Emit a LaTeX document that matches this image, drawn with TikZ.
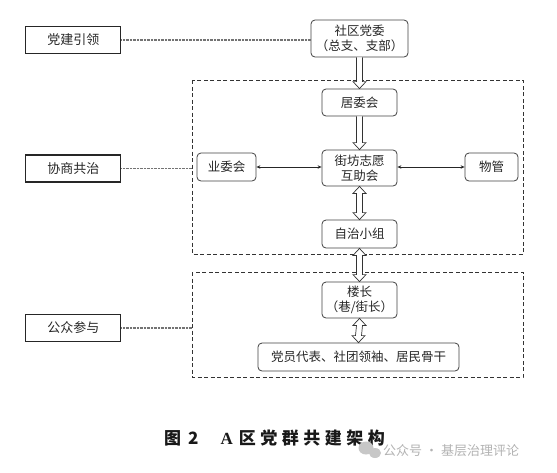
\documentclass[tikz,border=0pt]{standalone}
\usepackage{fontspec}
\setmainfont{Noto Sans CJK SC}
\newfontfamily\capserif{Liberation Serif}
\usetikzlibrary{arrows.meta,calc}
% hollow vertical arrow, head at the lower end
\newcommand\harrowone[2]{%
  \draw[hollowarr] ($(#1)+(-3,0)$) -- ($(#2)+(-3,-7)$) -- ($(#2)+(-6.5,-7)$) -- (#2)
    -- ($(#2)+(6.5,-7)$) -- ($(#2)+(3,-7)$) -- ($(#1)+(3,0)$);}
% hollow vertical arrow, heads at both ends
\newcommand\harrowtwo[2]{%
  \draw[hollowarr] ($(#1)+(-3,7)$) -- ($(#2)+(-3,-7)$) -- ($(#2)+(-6.5,-7)$) -- (#2)
    -- ($(#2)+(6.5,-7)$) -- ($(#2)+(3,-7)$) -- ($(#1)+(3,7)$) -- ($(#1)+(6.5,7)$)
    -- (#1) -- ($(#1)+(-6.5,7)$) -- cycle;}
\begin{document}
\begin{tikzpicture}[x=1pt,y=-1pt,
  lbox/.style={draw=black!85, line width=1.2pt, minimum width=95pt, minimum height=27pt, inner sep=0pt, font=\fontsize{13}{15}\selectfont, text=black!85},
  rbox/.style={draw=black!75, line width=0.8pt, rounded corners=4pt, inner sep=0pt, font=\fontsize{12.5}{15.5}\selectfont, text=black!85, align=center},
  grp/.style={draw=black!80, line width=1pt, dash pattern=on 4pt off 2.5pt},
  link/.style={draw=black!55, line width=1.3pt, dash pattern=on 0.8pt off 0.6pt},
  hollowarr/.style={draw=black!80, line width=0.7pt, fill=white, line join=miter},
  thin/.style={draw=black!85, line width=0.7pt, {Stealth[length=4pt,width=3.5pt]}-{Stealth[length=4pt,width=3.5pt]}}
]
\useasboundingbox (0,0) rectangle (557,472);

% group frames
\draw[grp] (192,80) rectangle (523,254);
\draw[grp] (192,272) rectangle (523,377);

% left labels
\node[lbox] (dj) at (73.3,40) {党建引领};
\node[lbox] (xs) at (73.3,168.5) {协商共治};
\node[lbox] (gz) at (73.3,328) {公众参与};

% right nodes
\node[rbox, minimum width=97pt, minimum height=37pt] (sq) at (359.5,38.5) {社区党委\\（总支、支部）};
\node[rbox, minimum width=75pt, minimum height=27pt] (jw) at (359.5,102.5) {居委会};
\node[rbox, minimum width=75pt, minimum height=36pt] (jf) at (359.5,168) {街坊志愿\\互助会};
\node[rbox, minimum width=59pt, minimum height=28pt] (yw) at (226.5,167) {业委会};
\node[rbox, minimum width=53pt, minimum height=28pt] (wg) at (491.5,167) {物管};
\node[rbox, minimum width=75pt, minimum height=28pt] (zz) at (359.5,234) {自治小组};
\node[rbox, minimum width=75pt, minimum height=36pt] (lz) at (359.5,300) {楼长\\（巷/街长）};
\node[rbox, minimum width=201pt, minimum height=28pt] (dy) at (358.5,357) {党员代表、社团领袖、居民骨干};

% dotted links
\coordinate (c1) at (192,168.5);
\coordinate (c2) at (192,328);
\draw[link] (dj.east) -- (dj.east -| sq.west);
\draw[link] (xs.east) -- (c1);
\draw[link] (gz.east) -- (c2);

% hollow arrows
\harrowone{sq.south}{jw.north}
\harrowone{jw.south}{jf.north}
\harrowtwo{jf.south}{zz.north}
\harrowtwo{zz.south}{lz.north}
\harrowtwo{lz.south}{dy.north}

% thin arrows
\draw[thin] (yw.east) -- (yw.east -| jf.west);
\draw[thin] (wg.west -| jf.east) -- (wg.west);

% caption
\node[anchor=west, inner sep=0pt, font=\fontsize{17}{17}\selectfont\bfseries, text=black!90] (cap) at (164,438) {图\hspace{7pt}2\hspace{22pt}{\capserif A}\hspace{6pt}区\hspace{4.5pt}党\hspace{4.5pt}群\hspace{4.5pt}共\hspace{4.5pt}建\hspace{4.5pt}架\hspace{4.5pt}构};

% watermark
\fill[black!22] (366,448) ellipse (7.5 and 6.5);
\fill[black!22] (375,453) ellipse (6 and 5);
\node[anchor=west, inner sep=0pt, text=black!30, font=\fontsize{13}{13}\selectfont] (wm) at (383,451) {公众号 · 基层治理评论};
\end{tikzpicture}
\end{document}
